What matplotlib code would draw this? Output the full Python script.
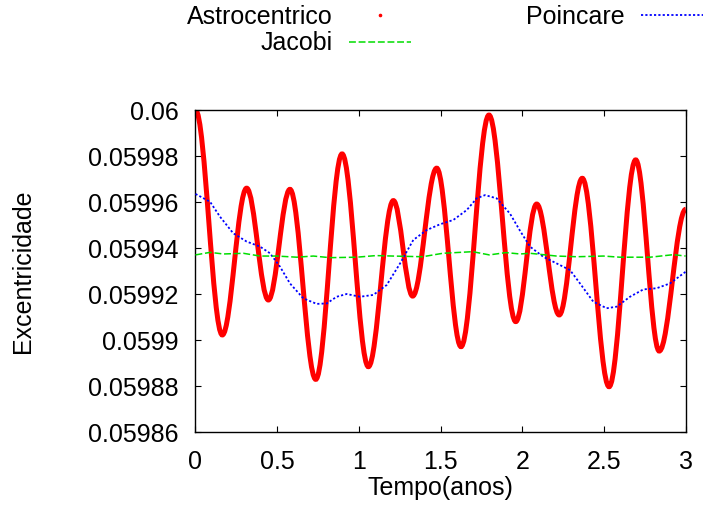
import matplotlib
matplotlib.use('Agg')
import matplotlib.pyplot as plt
from matplotlib.path import Path
from matplotlib.patches import PathPatch
from matplotlib.lines import Line2D
from matplotlib.ticker import MultipleLocator, FormatStrFormatter

plt.rcParams['font.family'] = ['Liberation Sans', 'DejaVu Sans']

# Astrocentrico - turning points of the oscillation (start, max/min..., end)
astro_t = [0.0, 0.164, 0.313, 0.446, 0.578, 0.736, 0.897, 1.058, 1.211, 1.329, 1.476,
           1.625, 1.796, 1.960, 2.088, 2.226, 2.367, 2.531, 2.694, 2.838, 3.0]
astro_e = [0.0600000, 0.0599022, 0.0599660, 0.0599174, 0.0599655, 0.0598829, 0.0599809,
           0.0598884, 0.0599606, 0.0599191, 0.0599747, 0.0598971, 0.0599978, 0.0599080,
           0.0599591, 0.0599109, 0.0599703, 0.0598797, 0.0599783, 0.0598952, 0.0599568]

# Poincare
poin_t = [0.0, 0.089, 0.150, 0.231, 0.313, 0.395, 0.456, 0.517, 0.578, 0.660, 0.742,
          0.803, 0.864, 0.925, 1.007, 1.088, 1.170, 1.252, 1.333, 1.415, 1.496, 1.578,
          1.660, 1.721, 1.772, 1.843, 1.925, 1.986, 2.047, 2.128, 2.210, 2.292, 2.353,
          2.434, 2.516, 2.578, 2.659, 2.741, 2.822, 2.904, 3.0]
poin_e = [0.0599635, 0.0599601, 0.0599536, 0.0599464, 0.0599428, 0.0599406, 0.0599377,
          0.0599319, 0.0599246, 0.0599181, 0.0599157, 0.0599159, 0.0599188, 0.0599200,
          0.0599188, 0.0599196, 0.0599239, 0.0599333, 0.0599435, 0.0599478, 0.0599503,
          0.0599522, 0.0599565, 0.0599616, 0.0599630, 0.0599616, 0.0599549, 0.0599475,
          0.0599406, 0.0599362, 0.0599333, 0.0599304, 0.0599246, 0.0599167, 0.0599138,
          0.0599145, 0.0599188, 0.0599220, 0.0599225, 0.0599246, 0.0599297]

# Jacobi
jac_t = [0.0, 0.089, 0.170, 0.293, 0.395, 0.497, 0.620, 0.721, 0.823, 0.986, 1.105,
         1.207, 1.390, 1.513, 1.696, 1.798, 1.900, 1.986, 2.047, 2.210, 2.333, 2.496,
         2.598, 2.782, 2.925, 3.0]
jac_e = [0.0599370, 0.0599381, 0.0599374, 0.0599377, 0.0599365, 0.0599365, 0.0599360,
         0.0599365, 0.0599358, 0.0599360, 0.0599367, 0.0599365, 0.0599362, 0.0599377,
         0.0599384, 0.0599370, 0.0599380, 0.0599374, 0.0599377, 0.0599365, 0.0599362,
         0.0599365, 0.0599360, 0.0599360, 0.0599371, 0.0599365]

red = '#ff0000'
green = '#00dd00'
blue = '#0000ff'


# smooth curve through the turning points (flat tangent at each one)
def turning_path(t, e, k=0.36):
    verts = [(t[0], e[0])]
    codes = [Path.MOVETO]
    for i in range(1, len(t)):
        d = (t[i] - t[i - 1]) * k
        verts += [(t[i - 1] + d, e[i - 1]), (t[i] - d, e[i]), (t[i], e[i])]
        codes += [Path.CURVE4] * 3
    return Path(verts, codes)


fig = plt.figure(figsize=(7.26, 5.14), dpi=100)
ax = fig.add_axes([195.5 / 726, 1 - 432 / 514, 490.2 / 726, 322 / 514])

ax.add_patch(PathPatch(turning_path(astro_t, astro_e), fill=False, edgecolor=red,
                       lw=3.6, capstyle='butt', zorder=2))
ax.plot(poin_t, poin_e, color=blue, lw=1.3, dashes=(1.2, 1.2), zorder=3)
ax.plot(jac_t, jac_e, color=green, lw=1.1, dashes=(4.5, 1.8), zorder=4)

ax.set_xlim(0, 3)
ax.set_ylim(0.05986, 0.06)
ax.xaxis.set_major_locator(MultipleLocator(0.5))
ax.yaxis.set_major_locator(MultipleLocator(0.00002))
ax.xaxis.set_major_formatter(FormatStrFormatter('%g'))
ax.yaxis.set_major_formatter(FormatStrFormatter('%g'))
ax.tick_params(direction='in', top=True, right=True, length=4.5, width=0.8,
               labelsize=18, colors='black')
ax.tick_params(axis='y', pad=12)
ax.tick_params(axis='x', pad=13)
for s in ax.spines.values():
    s.set_linewidth(1.0)

fig.text(440.6 / 726, 1 - 488 / 514, 'Tempo(anos)', fontsize=18, ha='center', va='center')
fig.text(23 / 726, 1 - 271.5 / 514, 'Excentricidade', fontsize=18, rotation=90,
         ha='center', va='center')

handles = [Line2D([], [], ls='', marker='o', ms=1.6, color=red),
           Line2D([], [], color=green, lw=1.1, dashes=(4.5, 1.8)),
           Line2D([], [], color=blue, lw=1.3, dashes=(1.2, 1.2))]
labels = ['Astrocentrico', 'Jacobi', 'Poincare']
fig.legend(handles, labels, ncols=2, markerfirst=False, frameon=False, loc='upper left',
           bbox_to_anchor=(187 / 726, 1 - 5 / 514), borderpad=0, borderaxespad=0,
           handlelength=2.5, handletextpad=0.64, columnspacing=4.6, labelspacing=0.1,
           fontsize=18)

fig.savefig('out.png', dpi=100)
